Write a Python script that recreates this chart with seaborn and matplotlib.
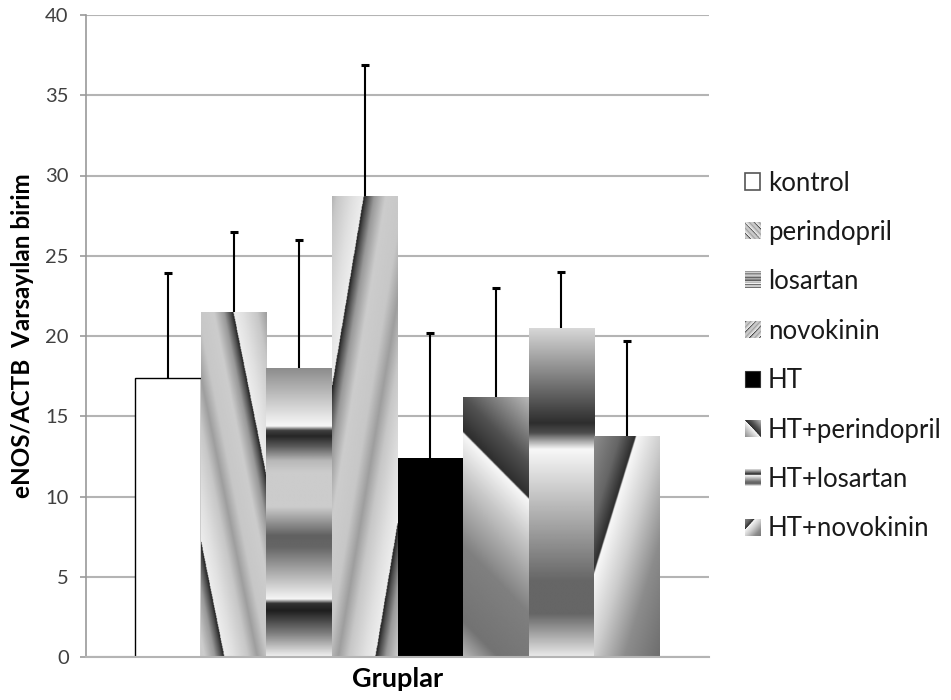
import numpy as np
import matplotlib
matplotlib.use("Agg")
import matplotlib.pyplot as plt
import seaborn as sns
from matplotlib.patches import Rectangle
from matplotlib.legend_handler import HandlerBase
from matplotlib.image import BboxImage
from matplotlib.transforms import Bbox, TransformedBbox
from matplotlib.colors import Normalize

# ---------------- data ----------------
groups = ["kontrol", "perindopril", "losartan", "novokinin",
          "HT", "HT+perindopril", "HT+losartan", "HT+novokinin"]
means = [17.4, 21.5, 18.0, 28.7, 12.4, 16.2, 20.5, 13.8]
sd_upper = [6.5, 5.0, 8.0, 8.2, 7.8, 6.8, 3.5, 5.9]
yticks = [0, 5, 10, 15, 20, 25, 30, 35, 40]

# ---------------- style ----------------
sns.set_theme(style="white")
plt.rcParams["font.family"] = ["Lato", "DejaVu Sans"]

fig = plt.figure(figsize=(9.51, 7.0), dpi=100)
ax = fig.add_axes([86 / 951, 43 / 700, (709 - 86) / 951, (657 - 15) / 700])

df = {"grp": groups, "val": means}
sns.barplot(x=df["grp"], y=df["val"], hue=df["grp"], order=groups, hue_order=groups,
            palette=["white"] + ["#c8c8c8"] * 3 + ["black"] + ["#c8c8c8"] * 3,
            width=1.0, legend=False, ax=ax, errorbar=None, saturation=1)

PX_PER_UNIT = 16.07
BAR_W_PX = 66.0


def prof(stops, t):
    xs, ys = zip(*stops)
    return np.interp(t, xs, ys)


PERI = [(0.0, 0.93), (0.12, 0.88), (0.3, 0.78), (0.42, 0.62), (0.55, 0.78),
        (0.75, 0.8), (0.88, 0.6), (0.96, 0.3), (1.0, 0.12)]
LOS = [(0, 0.55), (0.2, 0.97), (0.215, 0.25), (0.235, 0.15), (0.27, 0.35), (0.32, 0.72),
       (0.36, 0.8), (0.48, 0.8), (0.58, 0.38), (0.62, 0.4), (0.8, 0.96), (0.815, 0.2),
       (0.84, 0.12), (0.92, 0.5), (1.0, 0.95)]
HTP = [(-261, 0.72), (-225, 0.45), (-150, 0.5), (-80, 0.78), (-37, 0.97), (-35, 0.18),
       (0, 0.32), (65, 0.72)]
HTL = [(0, 0.85), (0.29, 0.18), (0.32, 0.3), (0.345, 0.65), (0.37, 0.97), (0.77, 0.4),
       (0.87, 0.4), (1.0, 0.92)]
HTN = [(0, 0.55), (0.6, 0.4), (0.97, 0.18), (1.0, 0.97), (1.6, 0.8), (2.3, 0.55), (3.2, 0.42)]


def bar_image(kind, h_px):
    nr, nc = 400, 120
    v = np.linspace(0, 1, nr)[:, None]
    u = np.linspace(0, 1, nc)[None, :]
    U = np.broadcast_to(u, (nr, nc))
    V = np.broadcast_to(v, (nr, nc))
    if kind == "peri":
        p = np.mod((U - 0.49 - 1.0625 * V) / 1.2, 1.0)
        return prof(PERI, p)
    if kind == "los":
        return prof(LOS, V)
    if kind == "novo":
        p = np.mod((U - 0.48 + 1.17 * V) / 1.35, 1.0)
        return prof(PERI, 1 - p)
    if kind == "htp":
        s = U * BAR_W_PX - V * h_px
        return prof(HTP, s)
    if kind == "htl":
        return prof(HTL, V)
    if kind == "htn":
        t = (136 * U * BAR_W_PX + 42 * V * h_px) / 5848.0
        return prof(HTN, t)
    return None


def swatch_image(kind):
    n = 40
    v = np.linspace(0, 1, n)[:, None]
    u = np.linspace(0, 1, n)[None, :]
    U = np.broadcast_to(u, (n, n))
    V = np.broadcast_to(v, (n, n))
    if kind == "peri":
        return prof(PERI, np.mod((U - V) * 1.6, 1.0))
    if kind == "los":
        return prof(LOS, np.mod(V * 1.6, 1.0))
    if kind == "novo":
        return prof(PERI, 1 - np.mod((U + V) * 1.6, 1.0))
    if kind == "htp":
        return prof(HTP, (U - V) * 100 - 35)
    if kind == "htl":
        return prof(HTL, V)
    if kind == "htn":
        return prof(HTN, (U + V) * 1.3 + 0.2)
    return None


kinds = [None, "peri", "los", "novo", None, "htp", "htl", "htn"]

patches = list(ax.patches)
for i, (patch, kind) in enumerate(zip(patches, kinds)):
    x0 = patch.get_x()
    w = patch.get_width()
    h = patch.get_height()
    if kind is None:
        if i == 0:
            patch.set_edgecolor("black")
            patch.set_linewidth(1.0)
        else:
            patch.set_edgecolor("none")
        continue
    patch.set_edgecolor("none")
    img = bar_image(kind, h * PX_PER_UNIT)
    im = ax.imshow(img, extent=[x0, x0 + w, 0, h], origin="upper", aspect="auto",
                   cmap="gray", vmin=0, vmax=1, zorder=patch.get_zorder() + 0.1,
                   interpolation="bilinear")
    im.set_clip_path(patch)

# error bars (upper only)
centers = [p.get_x() + p.get_width() / 2 for p in patches]
eb = ax.errorbar(centers, means, yerr=[np.zeros(len(sd_upper)), sd_upper], fmt="none",
                 ecolor="black", elinewidth=1.5, capsize=3, capthick=2.2, zorder=5)
caplines = eb[1]
if len(caplines) == 2:
    caplines[0].set_visible(False)

ax.set_xlim(-1.254, 8.254)
ax.set_ylim(0, 40)
ax.set_yticks(yticks)
ax.set_yticklabels([str(t) for t in yticks])
ax.set_xticks([])
ax.yaxis.grid(True, color="#b4b4b4", linewidth=1.5)
ax.set_axisbelow(True)
for s in ["top", "right"]:
    ax.spines[s].set_visible(False)
ax.spines["left"].set_color("#9a9a9a")
ax.spines["left"].set_linewidth(1.2)
ax.spines["bottom"].set_color("#b4b4b4")
ax.spines["bottom"].set_linewidth(1.5)
ax.tick_params(axis="y", which="major", left=True, length=4.5, width=1.2, color="#9a9a9a",
               pad=8, labelsize=14.5, labelcolor="#404040")
ax.set_ylabel("eNOS/ACTB  Varsayılan birim", fontsize=17.5, fontweight="bold", labelpad=8,
              color="black")
ax.set_xlabel("Gruplar", fontsize=19.5, fontweight="bold", labelpad=7, color="black")


# ---------------- legend ----------------
class ImgHandler(HandlerBase):
    def __init__(self, arr):
        super().__init__()
        self.arr = arr

    def legend_artist(self, legend, orig_handle, fontsize, handlebox):
        x0, y0 = handlebox.xdescent, handlebox.ydescent
        w, h = handlebox.width, handlebox.height
        bb = TransformedBbox(Bbox.from_bounds(-x0, -y0, w, h), handlebox.get_transform())
        img = BboxImage(bb, cmap="gray", norm=Normalize(0, 1), interpolation="bilinear")
        img.set_data(self.arr)
        handlebox.add_artist(img)
        return img


handles = []
hmap = {}
for i, (g, kind) in enumerate(zip(groups, kinds)):
    if kind is None:
        if i == 0:
            r = Rectangle((0, 0), 1, 1, facecolor="white", edgecolor="#555555", linewidth=1.2)
        else:
            r = Rectangle((0, 0), 1, 1, facecolor="black", edgecolor="#333333", linewidth=0.8)
        handles.append(r)
    else:
        r = Rectangle((0, 0), 1, 1, facecolor="#aaaaaa")
        handles.append(r)
        hmap[r] = ImgHandler(swatch_image(kind))

leg = fig.legend(handles, groups, handler_map=hmap, loc="center left",
                 bbox_to_anchor=(745 / 951, 1 - 356 / 700), frameon=False,
                 fontsize=18.5, handlelength=0.6, handleheight=0.6, handletextpad=0.3,
                 labelspacing=0.95, borderpad=0, borderaxespad=0)
for t in leg.get_texts():
    t.set_color("#1a1a1a")

fig.savefig("out.png", dpi=100)
